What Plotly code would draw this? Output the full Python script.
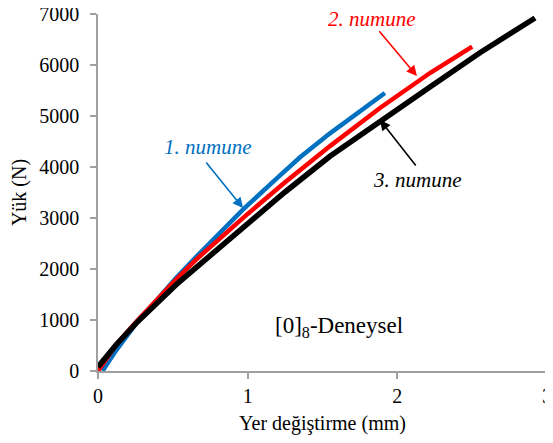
import plotly.graph_objects as go

# Data
x_numune1 = [0.03, 0.12, 0.254, 0.387, 0.52, 0.65, 0.77, 0.97, 1.2, 1.35, 1.55, 1.75, 1.917]
y_numune1 = [0, 400, 930, 1390, 1820, 2220, 2570, 3170, 3790, 4190, 4660, 5090, 5450]

x_numune2 = [0, 0.12, 0.254, 0.387, 0.52, 0.65, 0.835, 1.0, 1.25, 1.55, 1.884, 2.218, 2.5]
y_numune2 = [0, 510, 960, 1390, 1790, 2170, 2660, 3080, 3700, 4410, 5157, 5843, 6360]

x_numune3 = [0, 0.12, 0.254, 0.387, 0.52, 0.61, 0.76, 0.86, 1.0, 1.25, 1.55, 1.884, 2.218, 2.552, 2.75, 2.92]
y_numune3 = [80, 510, 935, 1327, 1686, 1915, 2290, 2540, 2890, 3510, 4210, 4900, 5570, 6240, 6610, 6922]

x_ticks = [0, 1, 2, 3]
y_ticks = [0, 1000, 2000, 3000, 4000, 5000, 6000, 7000]

FONT = "Liberation Serif"
BLUE = "#0070C0"
RED = "#FF0000"
BLACK = "#000000"

fig = go.Figure()
fig.add_trace(go.Scatter(x=x_numune1, y=y_numune1, mode="lines",
                         line=dict(color=BLUE, width=4.5), name="1. numune"))
fig.add_trace(go.Scatter(x=x_numune2, y=y_numune2, mode="lines",
                         line=dict(color=RED, width=4.5), name="2. numune"))
fig.add_trace(go.Scatter(x=x_numune3, y=y_numune3, mode="lines",
                         line=dict(color=BLACK, width=5.5), name="3. numune"))

axis_common = dict(showline=True, linecolor="#A0A0A0", linewidth=1.5,
                   ticks="outside", tickcolor="#A0A0A0", ticklen=6, tickwidth=1.5,
                   showgrid=False, zeroline=False, automargin=False,
                   ticklabeloverflow="allow",
                   tickfont=dict(family=FONT, size=20, color="black"))

fig.update_xaxes(range=[0, 3], tickvals=x_ticks, **axis_common,
                 title=dict(text="Yer değiştirme (mm)", font=dict(family=FONT, size=20, color="black"),
                            standoff=10))
fig.update_yaxes(range=[0, 7000], tickvals=y_ticks, ticklabelstandoff=7, **axis_common,
                 title=dict(text="Yük (N)", font=dict(family=FONT, size=20, color="black"),
                            standoff=7))

ann = []
def label(x, y, text, color, italic=True, size=21):
    t = f"<i>{text}</i>" if italic else text
    ann.append(dict(x=x, y=y, xref="x", yref="y", text=t, showarrow=False,
                    font=dict(family=FONT, size=size, color=color)))

def arrow(x0, y0, x1, y1, color):
    ann.append(dict(x=x1, y=y1, ax=x0, ay=y0, xref="x", yref="y", axref="x", ayref="y",
                    text="", showarrow=True, arrowhead=2, arrowsize=1.3,
                    arrowwidth=1.6, arrowcolor=color))

label(0.735, 4392, "1. numune", BLUE)
arrow(0.715, 4118, 0.969, 3196, BLUE)
label(1.83, 6900, "2. numune", RED)
arrow(1.871, 6690, 2.131, 5784, RED)
label(2.138, 3745, "3. numune", BLACK)
arrow(2.131, 4000, 1.884, 4922, BLACK)
label(1.607, 860, "[0]<sub>8</sub>-Deneysel", BLACK, italic=False, size=23)

fig.update_layout(width=545, height=427, showlegend=False,
                  margin=dict(l=90, r=6, t=6, b=64),
                  plot_bgcolor="white", paper_bgcolor="white",
                  annotations=ann)

fig.write_html("out.html")
